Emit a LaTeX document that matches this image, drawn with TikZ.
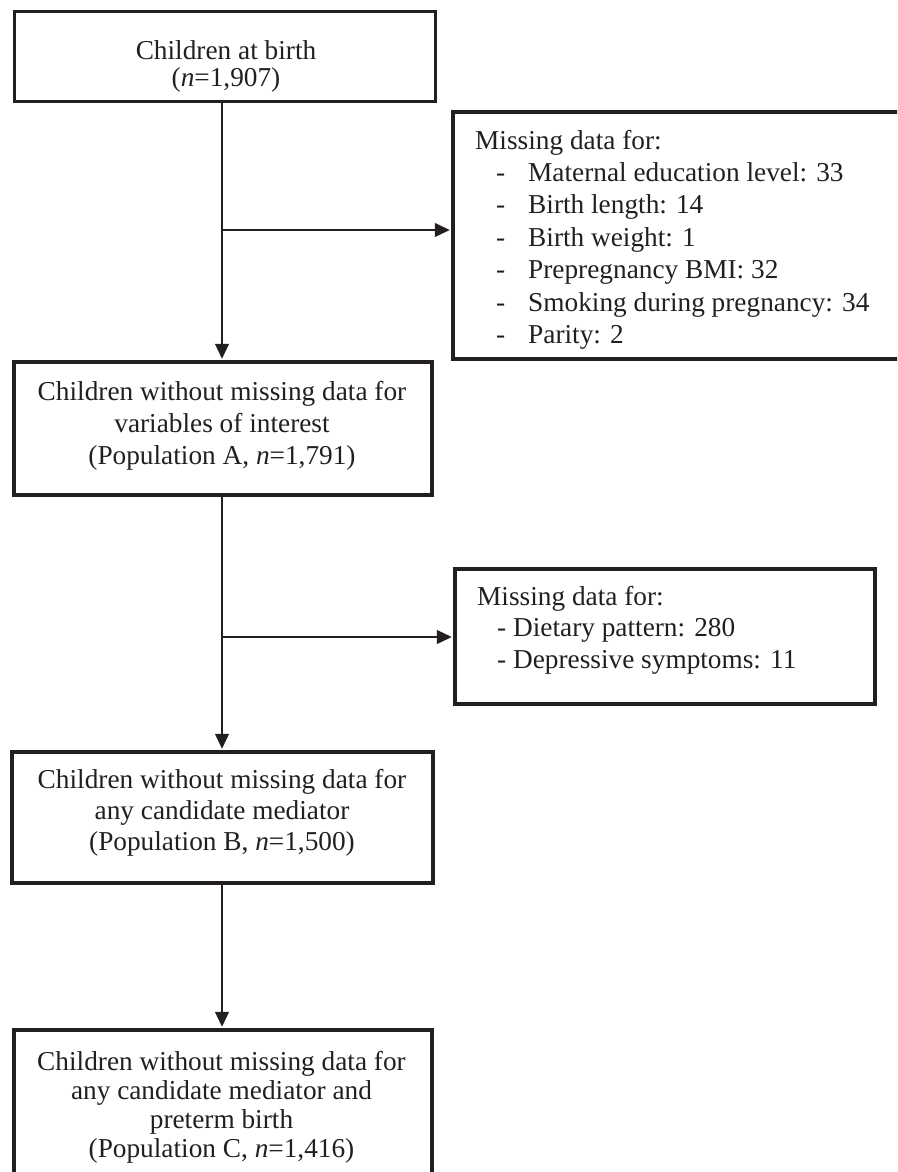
\documentclass[tikz,border=0pt]{standalone}
\usepackage{fontspec}
\setmainfont{Liberation Serif}
\usetikzlibrary{arrows.meta}
\definecolor{ink}{RGB}{35,31,32}
\begin{document}
\begin{tikzpicture}[x=1pt,y=-1pt,
  box/.style={draw=ink, line width=3.5pt, inner sep=0pt, rectangle},
  txt/.style={text=ink, inner sep=0pt},
  arr/.style={draw=ink, line width=1.3pt, -{Triangle[length=15pt,width=14pt]}}]
\useasboundingbox (0,0) rectangle (897,1172);
\clip (0,0) rectangle (897,1172);
% boxes
\node[box, minimum width=421pt, minimum height=90pt] (b1) at (225,56.5) {};
\node[box, minimum width=418pt, minimum height=133pt] (b2) at (223,428.5) {};
\node[box, minimum width=421pt, minimum height=131pt] (b3) at (222.5,817.5) {};
\node[box, minimum width=418pt, minimum height=190pt] (b4) at (223,1125) {};
\node[box, minimum width=467pt, minimum height=247pt] (rb1) at (686.5,235.5) {};
\node[box, minimum width=420pt, minimum height=135pt] (rb2) at (665,636.5) {};
% texts (base anchor = baseline of the last line)
\node[txt, anchor=base, align=center, font=\fontsize{27.3pt}{27pt}\selectfont] (t1) at (226,86)
  {Children at birth\\(\textit{n}=1,907)};
\node[txt, anchor=base, align=center, font=\fontsize{27.3pt}{32pt}\selectfont] (t2) at (222,464.7)
  {Children without missing data for\\variables of interest\\(Population A, \textit{n}=1,791)};
\node[txt, anchor=base, align=center, font=\fontsize{27.3pt}{31pt}\selectfont] (t3) at (222,850.3)
  {Children without missing data for\\any candidate mediator\\(Population B, \textit{n}=1,500)};
\node[txt, anchor=base, align=center, font=\fontsize{27.3pt}{29pt}\selectfont] (t4) at (221.5,1157)
  {Children without missing data for\\any candidate mediator and\\preterm birth\\(Population C, \textit{n}=1,416)};
\node[txt, anchor=base west, align=left, font=\fontsize{27.3pt}{32.4pt}\selectfont] (t5) at (475,343.5)
  {Missing data for:\\
   \hspace*{21pt}\makebox[32pt][l]{-}Maternal education level: 33\\
   \hspace*{21pt}\makebox[32pt][l]{-}Birth length: 14\\
   \hspace*{21pt}\makebox[32pt][l]{-}Birth weight: 1\\
   \hspace*{21pt}\makebox[32pt][l]{-}Prepregnancy BMI: 32\\
   \hspace*{21pt}\makebox[32pt][l]{-}Smoking during pregnancy: 34\\
   \hspace*{21pt}\makebox[32pt][l]{-}Parity: 2};
\node[txt, anchor=base west, align=left, font=\fontsize{27.3pt}{31.5pt}\selectfont] (t6) at (477,668)
  {Missing data for:\\
   \hspace*{20pt}- Dietary pattern: 280\\
   \hspace*{20pt}- Depressive symptoms: 11};
% connectors
\coordinate (s) at (222,0);
\coordinate (j1) at (222,230);
\coordinate (j2) at (222,637);
\draw[arr, shorten >=1.5pt] (b1.south -| s) -- (b2.north -| s);
\draw[arr, shorten >=1.5pt] (b2.south -| s) -- (b3.north -| s);
\draw[arr, shorten >=1.5pt] (b3.south -| s) -- (b4.north -| s);
\draw[arr, shorten >=1.5pt] (j1) -- (j1 -| rb1.west);
\draw[arr, shorten >=1.5pt] (j2) -- (j2 -| rb2.west);
\end{tikzpicture}
\end{document}
